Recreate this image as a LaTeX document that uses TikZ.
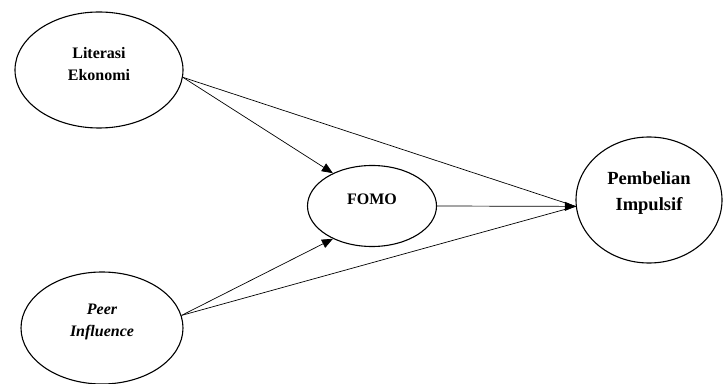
\documentclass[tikz,border=0pt]{standalone}
\usepackage{fontspec}
\setmainfont{Liberation Serif}
\usetikzlibrary{shapes.geometric, arrows.meta}

\tikzset{
  var/.style={draw, ellipse, line width=1.1pt, inner sep=0pt},
  txt/.style={align=center, font=\fontsize{16}{22}\selectfont\bfseries},
  link/.style={line width=0.7pt},
  arr/.style={link, -{Triangle[length=11pt,width=9pt]}}
}

\begin{document}
\begin{tikzpicture}[x=1pt, y=1pt]
    \useasboundingbox (0,0) rectangle (725,383);
    % variables
    \node[var, minimum width=168pt, minimum height=116pt] (lit) at (99,313) {};
    \node[var, minimum width=162pt, minimum height=112pt] (peer) at (102,55) {};
    \node[var, minimum width=129pt, minimum height=81pt] (fomo) at (372,177) {};
    \node[var, minimum width=146pt, minimum height=126pt] (pemb) at (649,183) {};
    \node[txt] (litT) at ([yshift=6]lit) {Literasi\\Ekonomi};
    \node[txt, font=\fontsize{16}{22}\selectfont\bfseries\itshape] (peerT) at ([yshift=6]peer) {Peer\\Influence};
    \node[txt] (fomoT) at ([yshift=7]fomo) {FOMO};
    \node[txt, font=\fontsize{18.5}{26}\selectfont\bfseries] (pembT) at ([yshift=7]pemb) {Pembelian\\Impulsif};
    \coordinate (in) at (pemb.185);
    % paths
    \draw[arr] (lit.-5) -- (fomo.140);
    \draw[arr] (peer.9) -- (fomo.220);
    \draw[link] (lit.-5) -- (in);
    \draw[link] (peer.9) -- (in);
    \draw[arr] (fomo.east) -- (in);
\end{tikzpicture}
\end{document}
